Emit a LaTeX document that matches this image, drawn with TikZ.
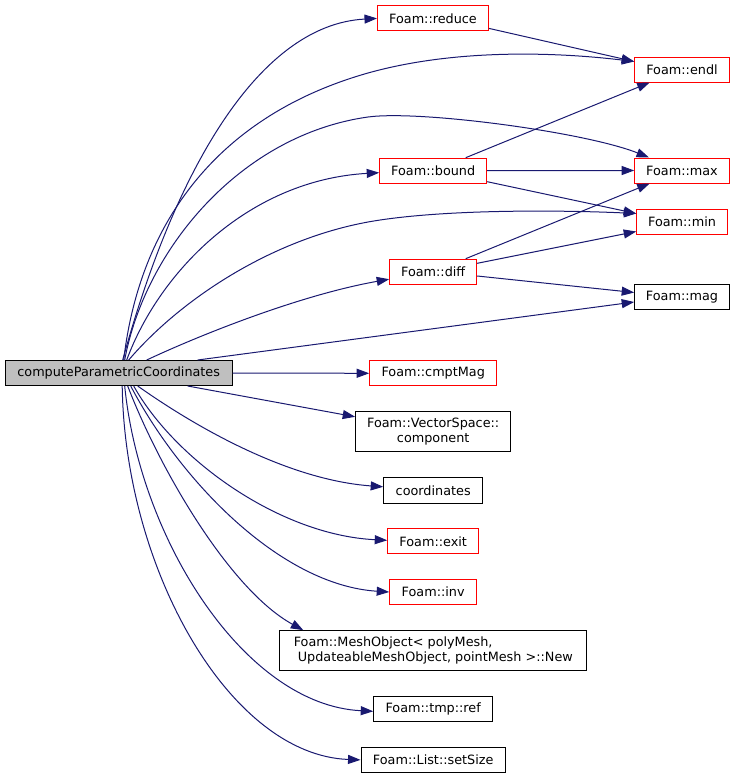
\documentclass[tikz,border=0pt]{standalone}
\usepackage{fontspec}
\setmainfont{DejaVu Sans}
\usetikzlibrary{arrows.meta}
\definecolor{edgeblue}{HTML}{191970}
\definecolor{boxred}{HTML}{FF0000}
\definecolor{mainfill}{HTML}{BFBFBF}
\begin{document}
\begin{tikzpicture}[x=1pt,y=-1pt,
  box/.style={draw=black, line width=1pt, inner sep=0pt, fill=white, font=\fontsize{12.8}{15.3}\selectfont, align=center},
  redbox/.style={box, draw=boxred},
  mainbox/.style={box, fill=mainfill},
  edge/.style={draw=edgeblue, line width=1pt, -{Triangle[length=12.5pt,width=9pt]}}]
\useasboundingbox (0,0) rectangle (735,779);
% nodes
\node[mainbox, minimum width=227pt, minimum height=25pt] (main) at (118.7,373) {computeParametricCoordinates};
\node[redbox, minimum width=111pt, minimum height=25pt] (reduce) at (433,18.4) {Foam::reduce};
\node[redbox, minimum width=94.6pt, minimum height=25pt] (endl) at (682,69.5) {Foam::endl};
\node[redbox, minimum width=107pt, minimum height=25pt] (bound) at (433.2,170.7) {Foam::bound};
\node[redbox, minimum width=94.6pt, minimum height=25pt] (max) at (682,170.5) {Foam::max};
\node[redbox, minimum width=90.6pt, minimum height=25pt] (min) at (682,221.5) {Foam::min};
\node[redbox, minimum width=87pt, minimum height=25pt] (diff) at (433.2,271.7) {Foam::diff};
\node[box, minimum width=94.6pt, minimum height=25pt] (mag) at (682,297) {Foam::mag};
\node[redbox, minimum width=127pt, minimum height=25pt] (cmptMag) at (433.2,373.3) {Foam::cmptMag};
\node[box, minimum width=155pt, minimum height=40pt] (vs) at (433.2,431.8) {Foam::VectorSpace::\\component};
\node[box, minimum width=99pt, minimum height=26pt] (coord) at (433.2,490.3) {coordinates};
\node[redbox, minimum width=91pt, minimum height=25pt] (exit) at (433.2,541.3) {Foam::exit};
\node[redbox, minimum width=87pt, minimum height=25pt] (inv) at (433.2,592) {Foam::inv};
\node[box, minimum width=307pt, minimum height=40pt, align=left] (mesh) at (433.3,650.7) {Foam::MeshObject< polyMesh,\\\hspace*{0.32em}UpdateableMeshObject, pointMesh >::New};
\node[box, minimum width=119pt, minimum height=25pt] (ref) at (433.2,709.3) {Foam::tmp::ref};
\node[box, minimum width=144.3pt, minimum height=25pt] (setsize) at (433.2,759.9) {Foam::List::setSize};
% edges from main, upward
\draw[edge] ([xshift=4pt]main.north) .. controls (172,180) and (255,25) .. (reduce.west);
\draw[edge] ([xshift=5pt]main.north) .. controls (140,220) and (220,115) .. (368,73) .. controls (468,45) and (580,55) .. ([yshift=8pt]endl.west);
\draw[edge] ([xshift=6pt]main.north) .. controls (145,250) and (240,135) .. (368,117) .. controls (420,110) and (585,132) .. ([xshift=-33pt]max.north);
\draw[edge] ([xshift=8pt]main.north) .. controls (160,270) and (250,180) .. ([yshift=-2pt]bound.west);
\draw[edge] ([xshift=10pt]main.north) .. controls (180,300) and (270,240) .. (368,222) .. controls (440,209) and (560,210) .. ([yshift=8pt]min.west);
\draw[edge] ([xshift=28pt]main.north) .. controls (200,335) and (300,295) .. ([yshift=-7.5pt]diff.west);
\draw[edge] ([xshift=79pt]main.north) -- ([yshift=-5pt]mag.west);
\draw[edge] (main.east) -- (cmptMag.west);
% edges from main, downward
\draw[edge] ([xshift=69pt]main.south) -- ([yshift=15pt]vs.west);
\draw[edge] ([xshift=19pt]main.south) .. controls (200,430) and (290,480) .. ([yshift=3.5pt]coord.west);
\draw[edge] ([xshift=15pt]main.south) .. controls (175,460) and (280,535) .. ([yshift=1pt]exit.west);
\draw[edge] ([xshift=12pt]main.south) .. controls (180,480) and (280,585) .. (inv.west);
\draw[edge] ([xshift=9pt]main.south) .. controls (160,470) and (230,590) .. ([xshift=-130pt]mesh.north);
\draw[edge] ([xshift=6pt]main.south) .. controls (140,540) and (245,705) .. ([yshift=-2pt]ref.west);
\draw[edge] ([xshift=3.5pt]main.south) .. controls (125,570) and (230,755) .. (setsize.west);
% other edges
\draw[edge] ([yshift=-10pt]reduce.east) -- ([yshift=8pt]endl.west);
\draw[edge] ([xshift=32.5pt]bound.north) -- ([xshift=-32.3pt]endl.south);
\draw[edge] (bound.east) -- (max.west);
\draw[edge] ([yshift=-11pt]bound.east) -- ([yshift=8pt]min.west);
\draw[edge] ([xshift=32.5pt]diff.north) -- ([xshift=-32.3pt]max.south);
\draw[edge] ([yshift=8.4pt]diff.east) -- ([yshift=-10pt]min.west);
\draw[edge] ([yshift=-4.3pt]diff.east) -- ([yshift=4.5pt]mag.west);
\end{tikzpicture}
\end{document}
